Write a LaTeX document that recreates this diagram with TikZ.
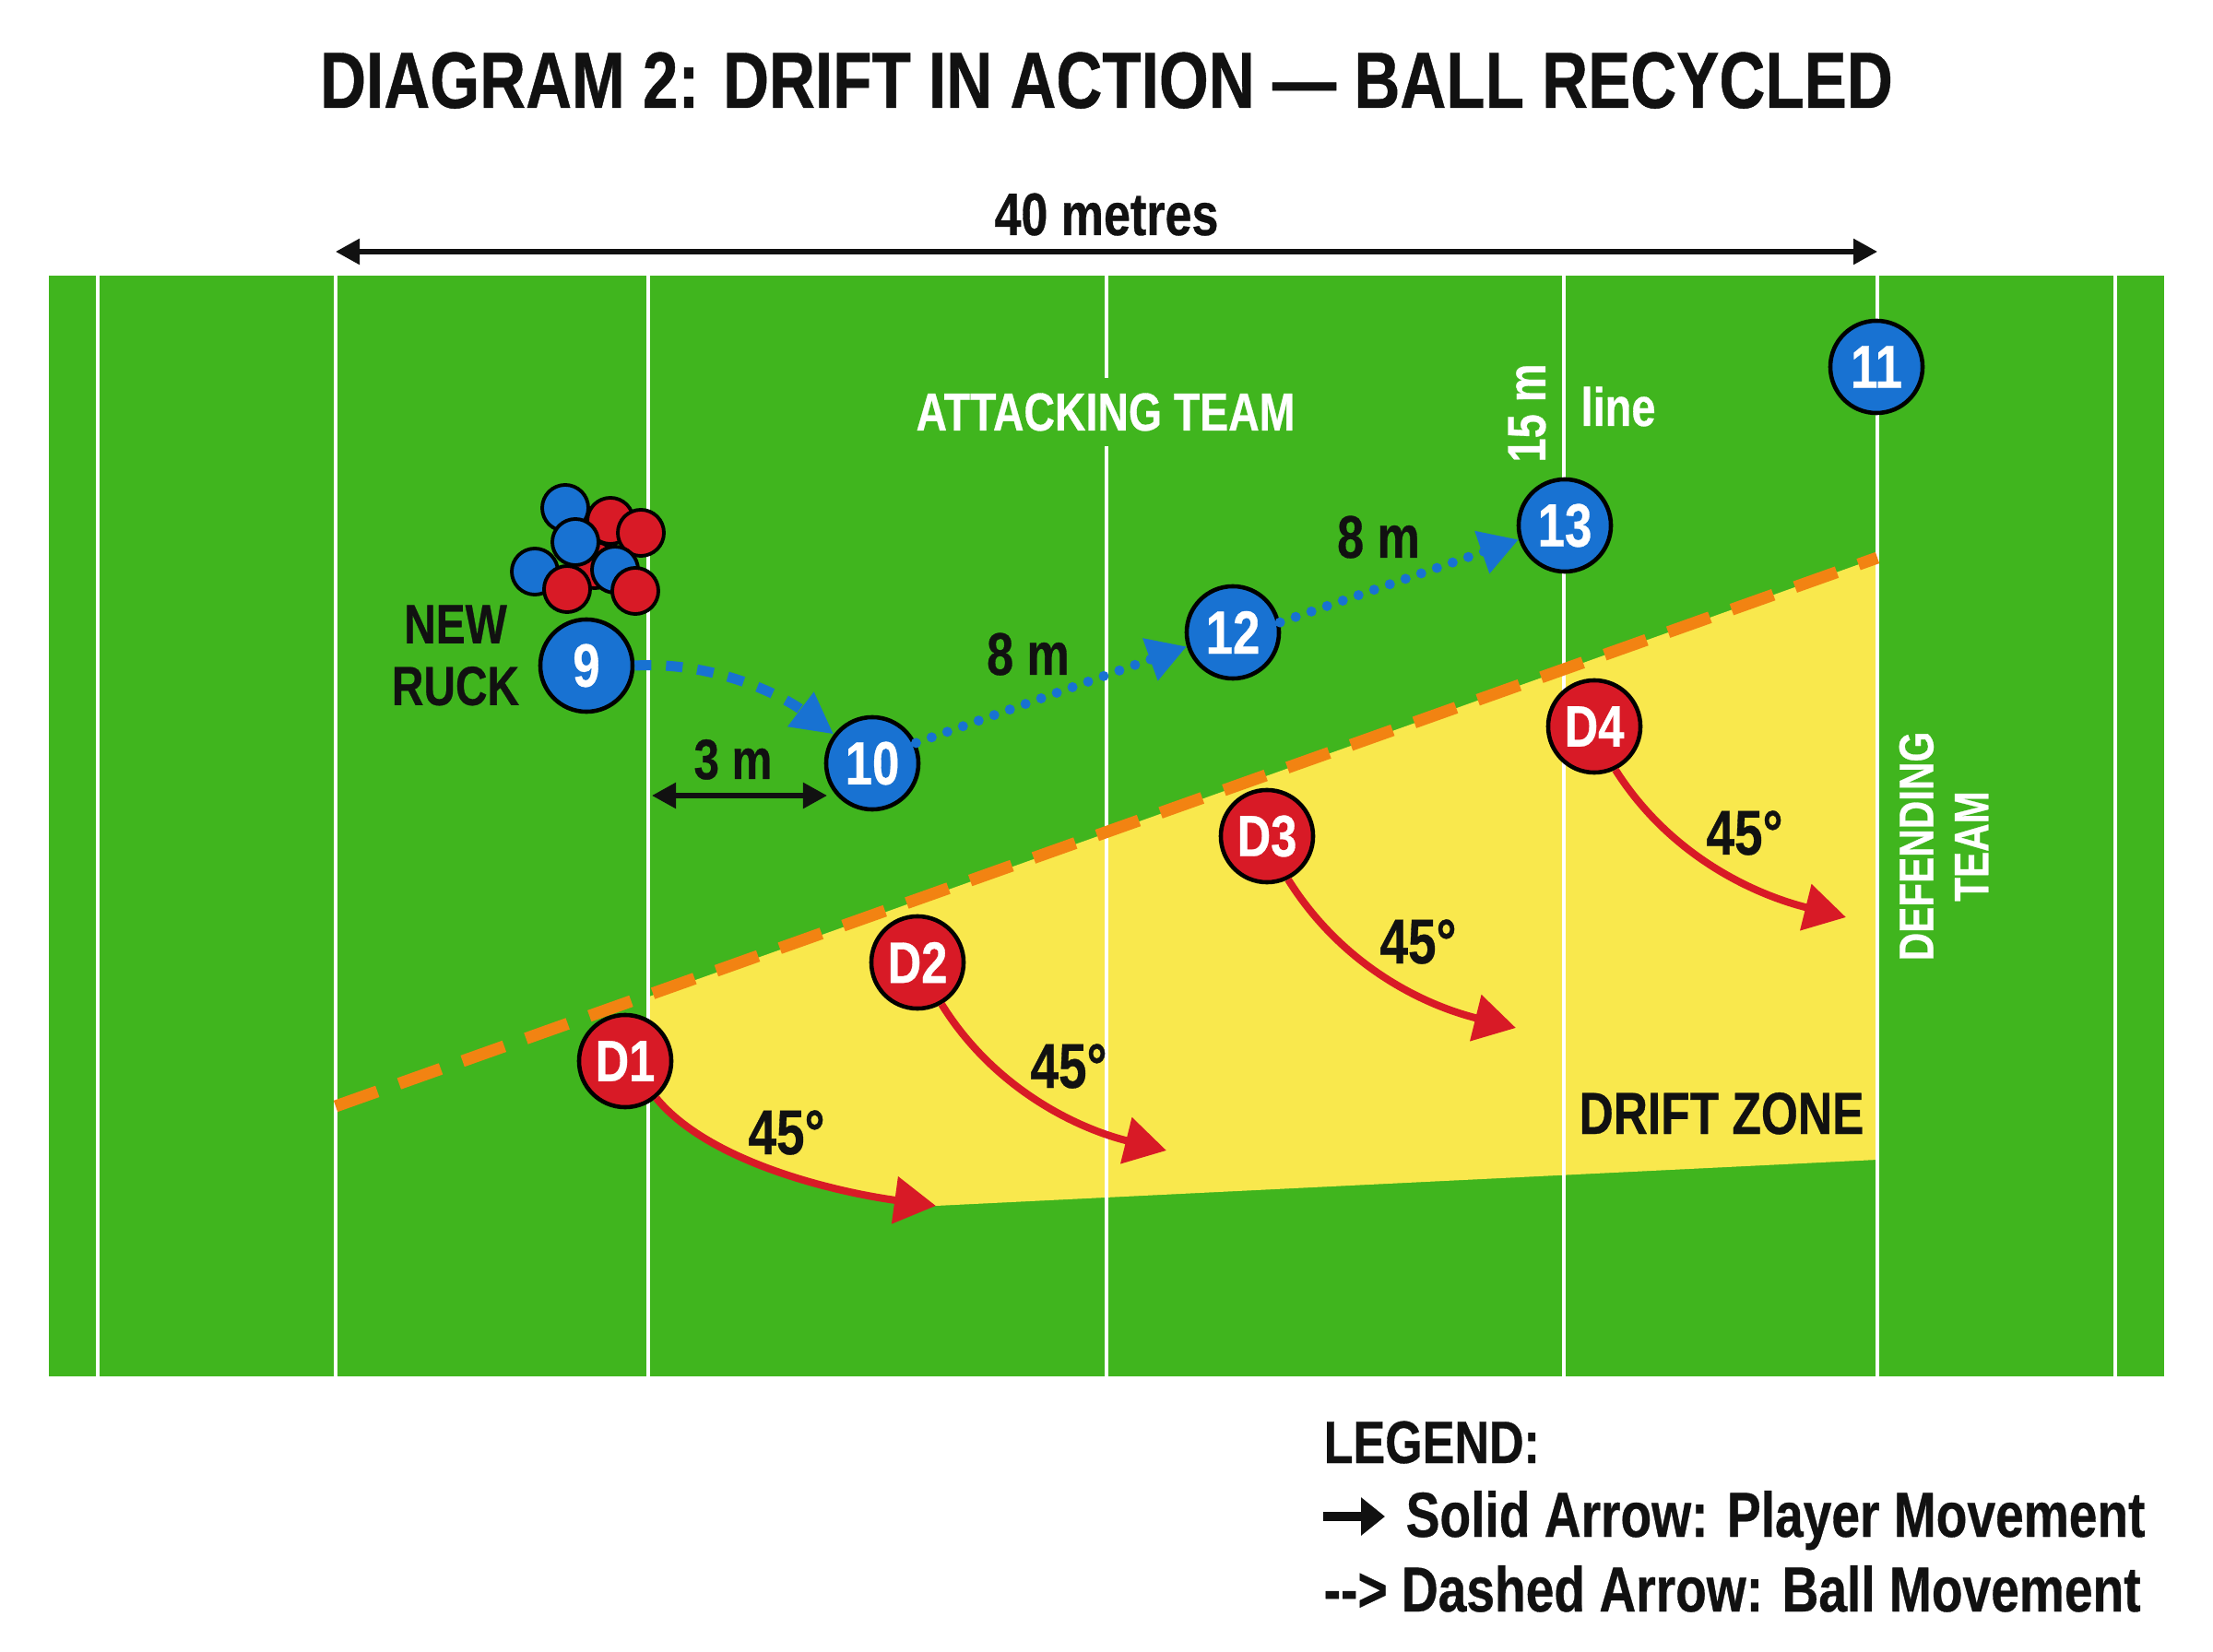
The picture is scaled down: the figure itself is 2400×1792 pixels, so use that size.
\documentclass[tikz,border=0pt]{standalone}
\usepackage{fontspec}
\setmainfont{Liberation Sans}[FakeStretch=0.8, FakeBold=0.5]
\usetikzlibrary{arrows.meta}
\definecolor{fieldgreen}{RGB}{64,181,30}
\definecolor{zoneyellow}{RGB}{249,232,77}
\definecolor{pblue}{RGB}{24,114,210}
\definecolor{pred}{RGB}{216,26,38}
\definecolor{dorange}{RGB}{242,131,18}
\definecolor{ink}{RGB}{17,17,17}
\newcommand\fsz[1]{\fontsize{#1}{#1}\selectfont}
\tikzset{
  lbl/.style={inner sep=0pt, text=ink, font=\bfseries\fsz{#1}},
  wlbl/.style={inner sep=0pt, text=white, font=\bfseries\fsz{#1}},
  player/.style={circle, draw=black, line width=1.3pt, minimum size=1cm, inner sep=0pt, text=white},
  attacker/.style={player, fill=pblue, font=\bfseries\fsz{18.8}},
  defender/.style={player, fill=pred, font=\bfseries\fsz{18}},
  ruckb/.style={circle, draw=black, line width=1.1pt, minimum size=0.5cm, inner sep=0pt, fill=pblue},
  ruckr/.style={ruckb, fill=pred},
  fieldline/.style={draw=white, line width=0.04cm},
  driftarrow/.style={draw=pred, line width=0.08cm, -{Triangle[length=0.45cm,width=0.5cm]}},
  passarrow/.style={draw=pblue, line width=0.11cm, dash pattern=on 0.18cm off 0.16cm, -{Triangle[length=0.45cm,width=0.44cm]}},
  dotarrow/.style={draw=pblue, line width=0.11cm, line cap=round, dash pattern=on 0pt off 0.18cm, -{Triangle[length=0.42cm,width=0.46cm]}},
  dimarrow/.style={draw=ink, line width=0.055cm, {Triangle[length=0.26cm,width=0.27cm]}-{Triangle[length=0.26cm,width=0.27cm]}},
}
\begin{document}
\begin{tikzpicture}[x=0.01cm,y=-0.01cm]
\useasboundingbox (0,0) rectangle (2400,1792);
\fill[white] (0,0) rectangle (2400,1792);

% title and width
\node[lbl=24.6, anchor=base] (title) at (1200,117) {DIAGRAM 2: DRIFT IN ACTION — BALL RECYCLED};
\node[lbl=18.5, anchor=base] (m40) at (1200,255) {40 metres};
\coordinate (dimL) at (364,273);
\coordinate (dimR) at (2036,273);
\draw[dimarrow] (dimL) -- (dimR);

% field
\fill[fieldgreen] (53,299) rectangle (2347,1493);
\fill[zoneyellow] (704,1081) -- (2036,605) -- (2036,1258) -- (1015,1308)
  .. controls (906,1293) and (769,1261) .. (711,1190) -- (704,1190) -- cycle;
\foreach \x in {106,364,703,1200,1696,2036,2294}
  \draw[fieldline] (\x,299) -- (\x,1493);
\coordinate (o1) at (364,1200);
\coordinate (o2) at (2036,605);
\draw[dorange, line width=0.13cm, dash pattern=on 0.48cm off 0.25cm] (o1) -- (o2);

% field labels
\node[wlbl=16.5, anchor=base, fill=fieldgreen, inner xsep=0.04cm, inner ysep=0.16cm] (attack) at (1199,467) {ATTACKING TEAM};
\node[wlbl=16.7, rotate=90] (fifteen) at (1656,448) {15 m};
\node[wlbl=16.7, anchor=base] (linelbl) at (1755,462) {line};
\node[wlbl=14.6, rotate=90, align=center, font=\bfseries\fontsize{15}{17}\selectfont] (defteam) at (2108,918) {DEFENDING\\TEAM};
\node[lbl=18.3, anchor=base] (zone) at (1867,1230) {DRIFT ZONE};

% ruck
\node[ruckr] (r6) at (645,613) {};
\node[ruckb] (r1) at (613,551) {};
\node[ruckr] (r2) at (662,565) {};
\node[ruckr] (r3) at (695,578) {};
\node[ruckb] (r4) at (624,588) {};
\node[ruckb] (r5) at (580,620) {};
\node[ruckb] (r7) at (667,618) {};
\node[ruckr] (r8) at (615,639) {};
\node[ruckr] (r9) at (689,641) {};
\node[lbl=17, align=center, font=\bfseries\fontsize{17}{19.06}\selectfont] (newruck) at (494,711) {NEW\\RUCK};

% attackers
\node[attacker] (p9) at (636,722) {9};
\node[attacker] (p10) at (946,828) {10};
\node[attacker] (p12) at (1337,686) {12};
\node[attacker] (p13) at (1697,570) {13};
\node[attacker] (p11) at (2035,398) {11};

% defenders
\node[defender] (D1) at (678,1151) {D1};
\node[defender] (D2) at (995,1044) {D2};
\node[defender] (D3) at (1374,907) {D3};
\node[defender] (D4) at (1729,788) {D4};

% ball movement
\draw[passarrow] (p9.east) .. controls (778,717) and (852,757) .. (p10.143);
\draw[dotarrow] (p10.25) -- (p12.197);
\draw[dotarrow] (p12.12) -- (p13.197);

% distances
\node[lbl=17.5, anchor=base] (m3) at (795,845) {3 m};
\coordinate (d3L) at (707,863);
\coordinate (d3R) at (897,863);
\draw[dimarrow] (d3L) -- (d3R);
\node[lbl=18.5, anchor=base] (m8a) at (1115,732) {8 m};
\node[lbl=18.5, anchor=base] (m8b) at (1495,605) {8 m};

% drift runs
\coordinate (t1) at (1015,1308);
\coordinate (t2) at (1265,1248);
\coordinate (t3) at (1644,1115);
\coordinate (t4) at (2002,995);
\draw[driftarrow] (D1.-50) .. controls (769,1261) and (906,1293) .. (t1);
\draw[driftarrow] (D2.-60) .. controls (1078,1181) and (1168,1224) .. (t2);
\draw[driftarrow] (D3.-64) .. controls (1457,1050) and (1547,1091) .. (t3);
\draw[driftarrow] (D4.-64) .. controls (1812,930) and (1905,971) .. (t4);
\node[lbl=19.5, anchor=base] (a1) at (853,1252) {45°};
\node[lbl=19.5, anchor=base] (a2) at (1159,1180) {45°};
\node[lbl=19.5, anchor=base] (a3) at (1538,1045) {45°};
\node[lbl=19.5, anchor=base] (a4) at (1892,927) {45°};

% legend
\node[lbl=18.5, anchor=base west] (leg) at (1435,1587) {LEGEND:};
\coordinate (la1) at (1435,1645);
\coordinate (la2) at (1502,1645);
\draw[draw=ink, line width=0.1cm, -{Triangle[length=0.26cm,width=0.4cm]}] (la1) -- (la2);
\node[lbl=19.6, anchor=base west] (leg1) at (1524,1667) {Solid Arrow: Player Movement};
\node[lbl=19.6, anchor=base west] (leg2) at (1435,1748) {-{}-> Dashed Arrow: Ball Movement};
\end{tikzpicture}
\end{document}
